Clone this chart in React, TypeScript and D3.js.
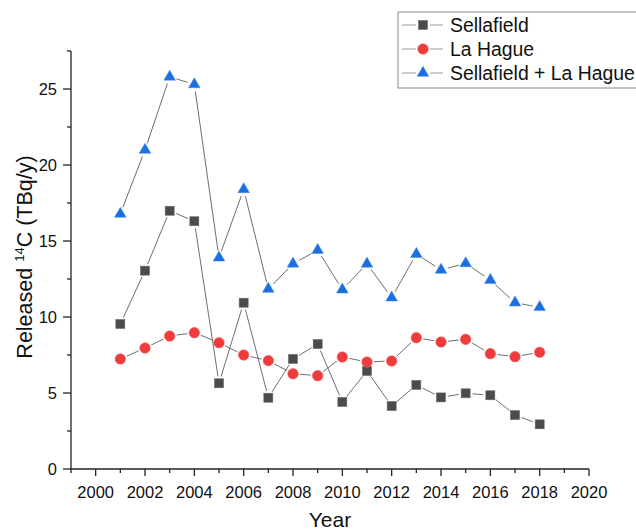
import React from "react";
import * as d3 from "d3";

const years = [2001, 2002, 2003, 2004, 2005, 2006, 2007, 2008, 2009, 2010, 2011, 2012, 2013, 2014, 2015, 2016, 2017, 2018];
const sellafield = [9.54, 13.05, 16.99, 16.3, 5.64, 10.94, 4.69, 7.24, 8.22, 4.41, 6.45, 4.14, 5.53, 4.71, 4.98, 4.85, 3.55, 2.94];
const laHague = [7.24, 7.96, 8.75, 8.97, 8.31, 7.5, 7.13, 6.27, 6.14, 7.37, 7.04, 7.11, 8.64, 8.36, 8.53, 7.59, 7.39, 7.68];
const combined = [16.78, 20.99, 25.8, 25.3, 13.9, 18.4, 11.84, 13.5, 14.4, 11.8, 13.5, 11.27, 14.14, 13.1, 13.53, 12.43, 10.94, 10.64];
const xMajorTicks = [2000, 2002, 2004, 2006, 2008, 2010, 2012, 2014, 2016, 2018, 2020];
const yMajorTicks = [0, 5, 10, 15, 20, 25];
const seriesNames = ["Sellafield", "La Hague", "Sellafield + La Hague"];

const FONT = "'Liberation Sans', Arial, Helvetica, sans-serif";
const W = 636;
const H = 532;
const X0 = 71, X1 = 589, Y0 = 469, Y1 = 51;

const x = d3.scaleLinear().domain([1999, 2020]).range([X0, X1]);
const y = d3.scaleLinear().domain([0, 27.5]).range([Y0, Y1]);

const colors = { square: "#4b4b4b", circle: "#ef3b3b", triangle: "#1b6fe0" };
const lineColor = "#6e6e6e";

function Marker({ kind, cx, cy }: { kind: string; cx: number; cy: number }) {
  if (kind === "square") {
    return <rect x={cx - 4.5} y={cy - 4.5} width={9} height={9} fill={colors.square} stroke="#6a6a6a" strokeWidth={0.6} />;
  }
  if (kind === "circle") {
    return <circle cx={cx} cy={cy} r={5.3} fill={colors.circle} stroke="#f06060" strokeWidth={0.5} />;
  }
  const sym = d3.symbol().type(d3.symbolTriangle).size(58)();
  return <path d={sym || ""} transform={`translate(${cx},${cy})`} fill={colors.triangle} stroke="#3d85e8" strokeWidth={0.5} />;
}

function GappedLine({ pts, gap }: { pts: [number, number][]; gap: number }) {
  const segs: JSX.Element[] = [];
  for (let i = 0; i < pts.length - 1; i++) {
    const [xa, ya] = pts[i];
    const [xb, yb] = pts[i + 1];
    const dx = xb - xa, dy = yb - ya;
    const len = Math.hypot(dx, dy);
    if (len <= 2 * gap) continue;
    const ux = dx / len, uy = dy / len;
    segs.push(
      <line key={i} x1={xa + ux * gap} y1={ya + uy * gap} x2={xb - ux * gap} y2={yb - uy * gap} stroke={lineColor} strokeWidth={1} />
    );
  }
  return <g>{segs}</g>;
}

export default function App() {
  const series = [
    { name: seriesNames[0], values: sellafield, kind: "square" },
    { name: seriesNames[1], values: laHague, kind: "circle" },
    { name: seriesNames[2], values: combined, kind: "triangle" },
  ];
  const xMinor = d3.range(1999, 2021);
  const yMinor = d3.range(0, 27.51, 2.5);

  return (
    <svg width={W} height={H} style={{ position: "absolute", left: 0, top: 0, background: "#fff" }} fontFamily={FONT}>
      <rect x={0} y={0} width={W} height={H} fill="#fff" />
      {series.map((s) => (
        <GappedLine key={s.name + "l"} gap={7} pts={years.map((yr, i) => [x(yr), y(s.values[i])] as [number, number])} />
      ))}
      {series.map((s) => (
        <g key={s.name + "m"}>
          {years.map((yr, i) => (
            <Marker key={yr} kind={s.kind} cx={x(yr)} cy={y(s.values[i])} />
          ))}
        </g>
      ))}
      <g stroke="#222" strokeWidth={1.3}>
        <line x1={X0} y1={Y1} x2={X0} y2={Y0} />
        <line x1={X0} y1={Y0} x2={X1} y2={Y0} />
        {xMinor.map((t) => (
          <line key={"xm" + t} x1={x(t)} x2={x(t)} y1={Y0} y2={Y0 + (xMajorTicks.includes(t) ? 7 : 4)} />
        ))}
        {yMinor.map((t) => (
          <line key={"ym" + t} x1={X0} x2={X0 - (yMajorTicks.includes(t) ? 8 : 4)} y1={y(t)} y2={y(t)} />
        ))}
      </g>
      <g fontSize={16.5} fill="#111">
        {xMajorTicks.map((t) => (
          <text key={"xl" + t} x={x(t)} y={498} textAnchor="middle">{t}</text>
        ))}
        {yMajorTicks.map((t) => (
          <text key={"yl" + t} x={57} y={y(t)} textAnchor="end" dominantBaseline="central">{t}</text>
        ))}
      </g>
      <text x={(X0 + X1) / 2} y={527} textAnchor="middle" fontSize={21} fill="#111">Year</text>
      <text transform={`translate(32,${(Y0 + Y1) / 2 - 3}) rotate(-90)`} textAnchor="middle" fontSize={21.5} fill="#111">
        Released <tspan fontSize={13} dy={-8}>14</tspan><tspan dy={8}>C (TBq/y)</tspan>
      </text>
      <g>
        <rect x={398} y={12} width={250} height={76} fill="#fff" stroke="#8a8a8a" strokeWidth={1} />
        {series.map((s, i) => {
          const ly = 25 + i * 24;
          return (
            <g key={s.name + "lg"}>
              <line x1={402} x2={416} y1={ly} y2={ly} stroke="#9a9a9a" strokeWidth={1} />
              <line x1={430} x2={443} y1={ly} y2={ly} stroke="#9a9a9a" strokeWidth={1} />
              <Marker kind={s.kind} cx={423} cy={ly} />
              <text x={450} y={ly} dominantBaseline="central" fontSize={19.4} fill="#111">{s.name}</text>
            </g>
          );
        })}
      </g>
    </svg>
  );
}
